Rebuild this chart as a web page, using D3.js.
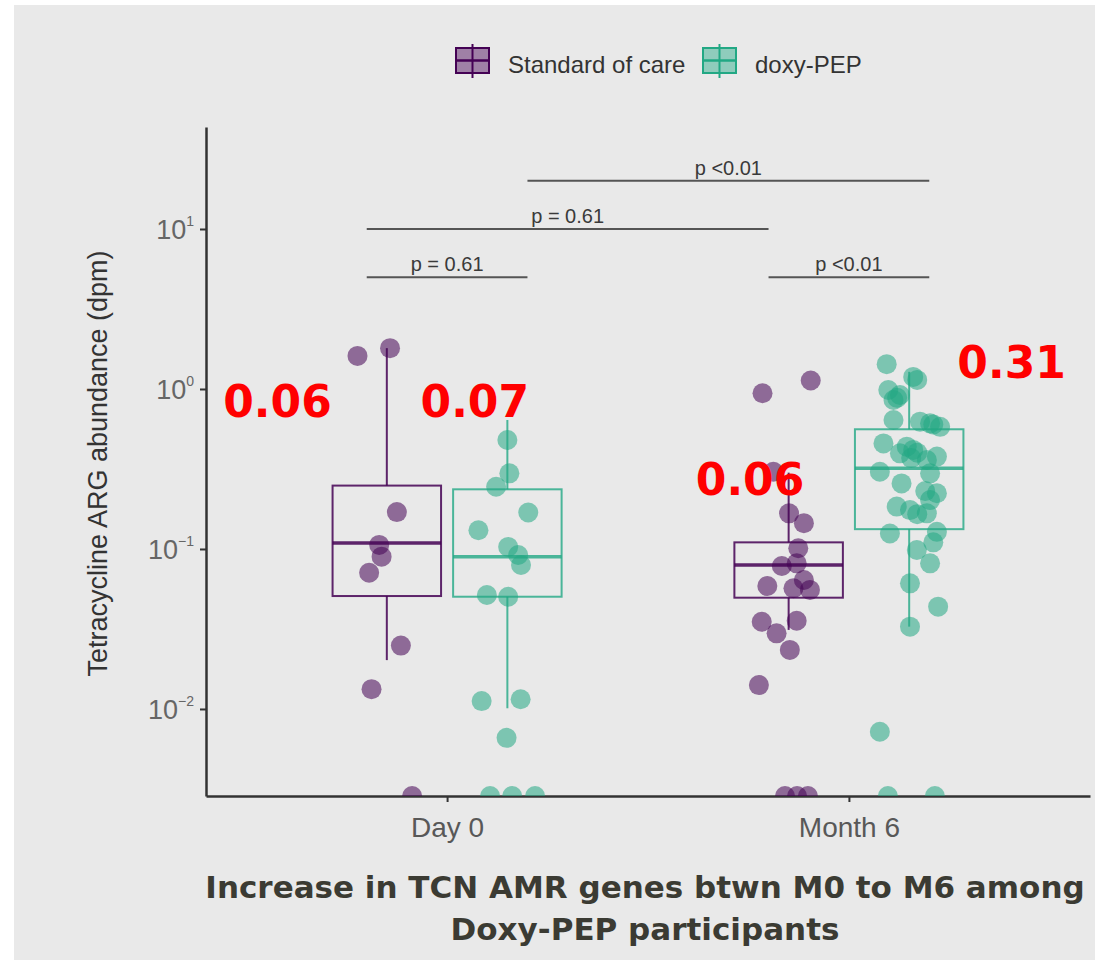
<!DOCTYPE html>
<html>
<head>
<meta charset="utf-8">
<script src="https://cdn.jsdelivr.net/npm/d3@7"></script>
<style>
  body { margin: 0; background: #fff; }
  text { font-family: "Liberation Sans", Arial, sans-serif; }
</style>
</head>
<body>
<div id="chart"></div>
<script>

// ------------------------------------------------------------------------ //
// DATA
// ------------------------------------------------------------------------ //

var timepoints = ["Day 0", "Month 6"]
var groups = ["Standard of care", "doxy-PEP"]
var groupColors = ["#440154", "#22A884"]

// y tick values and the exponent shown in the label
var yTickValues = [0.01, 0.1, 1, 10]
var yTickExponents = ["\u22122", "\u22121", "0", "1"]

// points: abundance values (0 = below detection) and horizontal jitter (in category units)
var socDay0Values = [1.61, 1.80, 0.17, 0.106, 0.0895, 0.071, 0.0249, 0.0133, 0]
var socDay0Jitter = [-0.073, 0.008, 0.025, -0.019, -0.013, -0.044, 0.035, -0.038, 0.063]

var doxyDay0Values = [0.48, 0.297, 0.245, 0.169, 0.131, 0.103, 0.0917, 0.0794, 0.0516, 0.0503, 0.0112, 0.0115, 0.0066, 0, 0, 0]
var doxyDay0Jitter = [0, 0.005, -0.028, 0.052, -0.072, 0.002, 0.027, 0.034, -0.051, 0.002, -0.064, 0.033, -0.002, -0.043, 0.012, 0.069]

var socMonth6Values = [0.94, 1.13, 0.304, 0.167, 0.145, 0.101, 0.0783, 0.0813, 0.0587, 0.0568, 0.0555, 0.064, 0.0351, 0.0356, 0.0297, 0.0234, 0.0141, 0, 0, 0]
var socMonth6Jitter = [-0.065, 0.055, -0.038, 0.001, 0.038, 0.024, -0.017, 0.020, -0.053, 0.012, 0.053, 0.038, -0.067, 0.020, -0.030, 0.003, -0.074, -0.009, 0.021, 0.048]

var doxyMonth6Values = [1.43, 1.19, 1.14, 0.986, 0.917, 0.854, 0.64, 0.625, 0.61, 0.58, 0.457, 0.436, 0.416, 0.396, 0.378, 0.36, 0.304, 0.297, 0.257, 0.223, 0.202, 0.184, 0.175, 0.167, 0.125, 0.128, 0.0986, 0.0813, 0.061, 0.0436, 0.0327, 0.0072, 0, 0,
                        0.40, 0.37, 0.60, 0.23, 0.165, 0.88, 0.11]
var doxyMonth6Jitter = [-0.056, 0.010, 0.020, -0.052, -0.023, -0.039, -0.039, 0.027, 0.052, 0.077, -0.064, -0.006, 0.010, -0.023, 0.069, 0.044, -0.073, 0.052, -0.019, 0.069, 0.052, -0.031, 0.002, 0.044, -0.048, 0.069, 0.019, 0.052, 0.002, 0.072, 0.002, -0.073, -0.053, 0.064,
                        0.020, 0.005, 0.060, 0.040, 0.020, -0.030, 0.060]

// box statistics: [lower whisker, Q1, median, Q3, upper whisker]
var socDay0Box = [0.0202, 0.0508, 0.109, 0.249, 1.80]
var doxyDay0Box = [0.0101, 0.0503, 0.0895, 0.236, 0.64]
var socMonth6Box = [0.0312, 0.0496, 0.0794, 0.110, 0.30]
var doxyMonth6Box = [0.0327, 0.133, 0.319, 0.56, 1.28]

// significance brackets (x in category units, y in dpm)
var bracketStart = [0.8, 0.8, 1.2, 1.8]
var bracketEnd = [1.2, 1.8, 2.2, 2.2]
var bracketLevel = [5, 10, 20, 5]
var bracketLabel = ["p = 0.61", "p = 0.61", "p <0.01", "p <0.01"]

// red median call-outs (anchored in data coordinates)
var calloutText = ["0.06", "0.07", "0.06", "0.31"]
var calloutX = [0.578, 1.069, 1.754, 2.405]
var calloutY = [0.668, 0.668, 0.2176, 1.17]

var footerLines = ["Increase in TCN AMR genes btwn M0 to M6 among", "Doxy-PEP participants"]

// one record per box
var series = [
  {time: 0, group: 0, values: socDay0Values, jitter: socDay0Jitter, box: socDay0Box},
  {time: 0, group: 1, values: doxyDay0Values, jitter: doxyDay0Jitter, box: doxyDay0Box},
  {time: 1, group: 0, values: socMonth6Values, jitter: socMonth6Jitter, box: socMonth6Box},
  {time: 1, group: 1, values: doxyMonth6Values, jitter: doxyMonth6Jitter, box: doxyMonth6Box}
]

// ------------------------------------------------------------------------ //
// SVG AREA
// ------------------------------------------------------------------------ //

var W = 1099, H = 964
var panel = {left: 206, right: 1090, top: 127, bottom: 796}
var dodge = 0.15, boxWidth = 0.27

var svg = d3.select("#chart")
  .append("svg")
    .attr("width", W)
    .attr("height", H)

svg.append("rect")
  .attr("x", 14).attr("y", 5)
  .attr("width", 1081).attr("height", 955)
  .attr("fill", "#e9e9e9")

svg.append("clipPath")
    .attr("id", "panelClip")
  .append("rect")
    .attr("x", panel.left).attr("y", panel.top)
    .attr("width", panel.right - panel.left)
    .attr("height", panel.bottom - panel.top)

// ------------------------------------------------------------------------ //
// SCALES AND AXES
// ------------------------------------------------------------------------ //

// discrete positions 1 and 2, with ggplot's 0.6 expansion
var x = d3.scaleLinear()
  .domain([0.4, 2.6])
  .range([panel.left, panel.right])

var y = d3.scaleLog()
  .domain([Math.pow(10, -2.544), Math.pow(10, 1.6375)])
  .range([panel.bottom, panel.top])

var yMin = y.domain()[0]
function yv(v) { return y(Math.max(v, yMin)) }
function xc(d) { return d.time + 1 + (d.group === 0 ? -dodge : dodge) }

var xAxis = svg.append("g")
  .attr("transform", "translate(0," + panel.bottom + ")")
  .call(d3.axisBottom(x).tickValues([1, 2]).tickFormat(function(d) { return timepoints[d - 1] })
    .tickSizeOuter(0).tickSizeInner(6).tickPadding(8))
xAxis.select(".domain").attr("stroke", "#333").attr("stroke-width", 2.5)
xAxis.selectAll(".tick line").attr("stroke", "#333").attr("stroke-width", 2)
xAxis.selectAll(".tick text")
  .attr("font-size", "28px")
  .attr("fill", "#585858")
  .attr("dy", "0.95em")
  .style("font-family", "'Liberation Sans', Arial, sans-serif")

var yAxis = svg.append("g")
  .attr("transform", "translate(" + panel.left + ",0)")
  .call(d3.axisLeft(y).tickValues(yTickValues).tickFormat("").tickSizeOuter(0).tickSizeInner(6))
yAxis.select(".domain").attr("stroke", "#333").attr("stroke-width", 2.5)
yAxis.selectAll(".tick line").attr("stroke", "#333").attr("stroke-width", 2)

// y tick labels as 10 with superscript exponent
var yLab = svg.append("g").selectAll("text")
  .data(yTickValues)
  .enter()
  .append("text")
    .attr("x", panel.left - 12)
    .attr("y", function(d) { return y(d) + 10 })
    .attr("text-anchor", "end")
    .attr("fill", "#666")
    .attr("font-size", "27px")
yLab.append("tspan").text("10")
yLab.append("tspan")
  .attr("font-size", "14px")
  .attr("dy", -13)
  .text(function(d, i) { return yTickExponents[i] })

svg.append("text")
  .attr("transform", "translate(107," + ((panel.top + panel.bottom) / 2 + 2) + ") rotate(-90)")
  .attr("text-anchor", "middle")
  .attr("font-size", "27px")
  .attr("fill", "#333")
  .text("Tetracycline ARG abundance (dpm)")

// ------------------------------------------------------------------------ //
// BOXES
// ------------------------------------------------------------------------ //

var boxes = svg.append("g").selectAll("g")
  .data(series)
  .enter()
  .append("g")
    .attr("stroke", function(d) { return groupColors[d.group] })
    .attr("stroke-opacity", function(d) { return d.group === 0 ? 0.85 : 0.8 })
    .attr("fill", "none")

boxes.append("line")
  .attr("x1", function(d) { return x(xc(d)) })
  .attr("x2", function(d) { return x(xc(d)) })
  .attr("y1", function(d) { return y(d.box[3]) })
  .attr("y2", function(d) { return y(d.box[4]) })
  .attr("stroke-width", 2)
boxes.append("line")
  .attr("x1", function(d) { return x(xc(d)) })
  .attr("x2", function(d) { return x(xc(d)) })
  .attr("y1", function(d) { return y(d.box[1]) })
  .attr("y2", function(d) { return y(d.box[0]) })
  .attr("stroke-width", 2)
boxes.append("rect")
  .attr("x", function(d) { return x(xc(d) - boxWidth / 2) })
  .attr("width", function(d) { return x(boxWidth) - x(0) })
  .attr("y", function(d) { return y(d.box[3]) })
  .attr("height", function(d) { return y(d.box[1]) - y(d.box[3]) })
  .attr("stroke-width", 2)
boxes.append("line")
  .attr("x1", function(d) { return x(xc(d) - boxWidth / 2) })
  .attr("x2", function(d) { return x(xc(d) + boxWidth / 2) })
  .attr("y1", function(d) { return y(d.box[2]) })
  .attr("y2", function(d) { return y(d.box[2]) })
  .attr("stroke-width", 3.5)

// ------------------------------------------------------------------------ //
// POINTS
// ------------------------------------------------------------------------ //

var pts = []
series.forEach(function(s) {
  s.values.forEach(function(v, i) {
    pts.push({group: s.group, x: xc(s) + s.jitter[i], v: v})
  })
})

svg.append("g")
    .attr("clip-path", "url(#panelClip)")
  .selectAll("circle")
  .data(pts)
  .enter()
  .append("circle")
    .attr("cx", function(d) { return x(d.x) })
    .attr("cy", function(d) { return d.v > 0 ? yv(d.v) : panel.bottom })
    .attr("r", 10)
    .attr("fill", function(d) { return groupColors[d.group] })
    .attr("fill-opacity", function(d) { return d.group === 0 ? 0.55 : 0.55 })

// ------------------------------------------------------------------------ //
// SIGNIFICANCE BRACKETS
// ------------------------------------------------------------------------ //

var br = svg.append("g").selectAll("g")
  .data(bracketLevel)
  .enter()
  .append("g")
br.append("line")
  .attr("x1", function(d, i) { return x(bracketStart[i]) })
  .attr("x2", function(d, i) { return x(bracketEnd[i]) })
  .attr("y1", function(d) { return y(d) })
  .attr("y2", function(d) { return y(d) })
  .attr("stroke", "#555")
  .attr("stroke-width", 2)
br.append("text")
  .attr("x", function(d, i) { return x((bracketStart[i] + bracketEnd[i]) / 2) })
  .attr("y", function(d) { return y(d) - 6 })
  .attr("text-anchor", "middle")
  .attr("font-size", "20px")
  .attr("fill", "#3a3a3a")
  .text(function(d, i) { return bracketLabel[i] })

// ------------------------------------------------------------------------ //
// LEGEND
// ------------------------------------------------------------------------ //

var legendX = [456, 703]
var leg = svg.append("g").selectAll("g")
  .data(groups)
  .enter()
  .append("g")
    .attr("transform", function(d, i) { return "translate(" + legendX[i] + ",48)" })
leg.append("line")
  .attr("x1", 16.5).attr("x2", 16.5).attr("y1", -4).attr("y2", 30)
  .attr("stroke", function(d, i) { return groupColors[i] })
  .attr("stroke-width", 2)
leg.append("rect")
  .attr("width", 33).attr("height", 25)
  .attr("fill", function(d, i) { return groupColors[i] })
  .attr("fill-opacity", 0.45)
  .attr("stroke", function(d, i) { return groupColors[i] })
  .attr("stroke-width", 2)
leg.append("line")
  .attr("x1", 0).attr("x2", 33).attr("y1", 12.5).attr("y2", 12.5)
  .attr("stroke", function(d, i) { return groupColors[i] })
  .attr("stroke-width", 2.5)
leg.append("text")
  .attr("x", 52)
  .attr("y", 25)
  .attr("font-size", "24px")
  .attr("fill", "#333")
  .text(function(d) { return d })

// ------------------------------------------------------------------------ //
// ANNOTATIONS
// ------------------------------------------------------------------------ //

svg.append("g").selectAll("text")
  .data(calloutText)
  .enter()
  .append("text")
    .attr("x", function(d, i) { return x(calloutX[i]) })
    .attr("y", function(d, i) { return y(calloutY[i]) })
    .attr("text-anchor", "middle")
    .attr("font-size", "44px")
    .attr("font-weight", "bold")
    .attr("fill", "#ff0000")
    .style("font-family", "'DejaVu Sans', sans-serif")
    .text(function(d) { return d })

svg.append("g").selectAll("text")
  .data(footerLines)
  .enter()
  .append("text")
    .attr("x", 645)
    .attr("y", function(d, i) { return 898 + i * 42 })
    .attr("text-anchor", "middle")
    .attr("font-size", "31px")
    .attr("font-weight", "bold")
    .attr("fill", "#3b3b33")
    .style("font-family", "'DejaVu Sans', sans-serif")
    .text(function(d) { return d })

</script>
</body>
</html>
